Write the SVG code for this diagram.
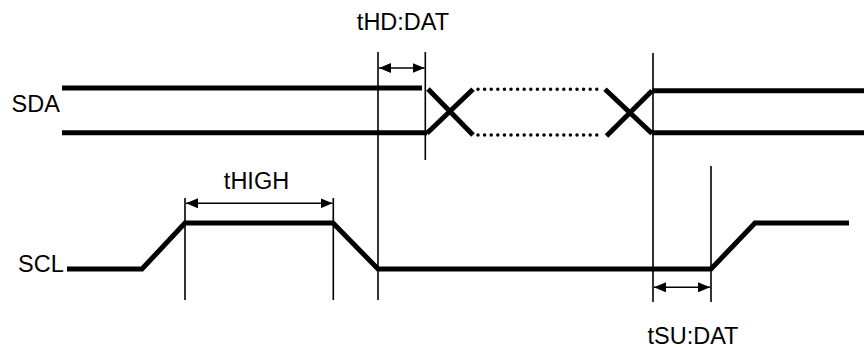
<svg xmlns="http://www.w3.org/2000/svg" width="864" height="349" viewBox="0 0 864 349">
<style>
.sig{fill:none;stroke:#000;stroke-width:5;stroke-linejoin:miter;stroke-linecap:butt}
.dot{fill:none;stroke:#000;stroke-width:3.5;stroke-linecap:round;stroke-dasharray:0 6.6}
.guide{fill:none;stroke:#000;stroke-width:1.6}
.dim{fill:none;stroke:#000;stroke-width:1.6}
text{font-family:"Liberation Sans",Arial,sans-serif;font-size:23.5px;fill:#000}
</style>
<defs>
<marker id="ah" viewBox="0 0 12 10" refX="12" refY="5" markerWidth="12" markerHeight="10" markerUnits="userSpaceOnUse" orient="auto-start-reverse">
<path d="M0,0 L12,5 L0,10 Z" fill="#000"/>
</marker>
</defs>
<g id="labels">
<text x="11.5" y="111.5">SDA</text>
<text x="18" y="271.5">SCL</text>
<text x="403" y="30" text-anchor="middle">tHD:DAT</text>
<text x="256.5" y="188.5" text-anchor="middle">tHIGH</text>
<text x="693" y="343.5" text-anchor="middle">tSU:DAT</text>
</g>
<g id="sda">
<path class="sig" d="M62,88 H422"/>
<path class="sig" d="M62,132.7 H427"/>
<path class="sig" d="M428,89 L473,135"/>
<path class="sig" d="M427,133.3 L473,89.3"/>
<path class="dot" d="M478,89.3 H602"/>
<path class="dot" d="M478,135 H602"/>
<path class="sig" d="M605,89.3 L652,133.5"/>
<path class="sig" d="M606.5,136 L652,90.7"/>
<path class="sig" d="M652,90.7 H864"/>
<path class="sig" d="M652,132.7 H864"/>
</g>
<g id="scl">
<path class="sig" d="M67,269 H142 L185,223 H333 L378,269 H711 L755,223 H849"/>
</g>
<g id="connectors">
<path class="guide" d="M378,52 V300"/>
<path class="guide" d="M425.3,52 V160"/>
<path class="guide" d="M653,53 V302"/>
<path class="guide" d="M711,166 V302"/>
<path class="guide" d="M185,198 V300"/>
<path class="guide" d="M333.3,198 V300"/>
<path class="dim" d="M379,68 H424.5" marker-start="url(#ah)" marker-end="url(#ah)"/>
<path class="dim" d="M186,203.3 H332.5" marker-start="url(#ah)" marker-end="url(#ah)"/>
<path class="dim" d="M654,287.3 H710" marker-start="url(#ah)" marker-end="url(#ah)"/>
</g>
</svg>
